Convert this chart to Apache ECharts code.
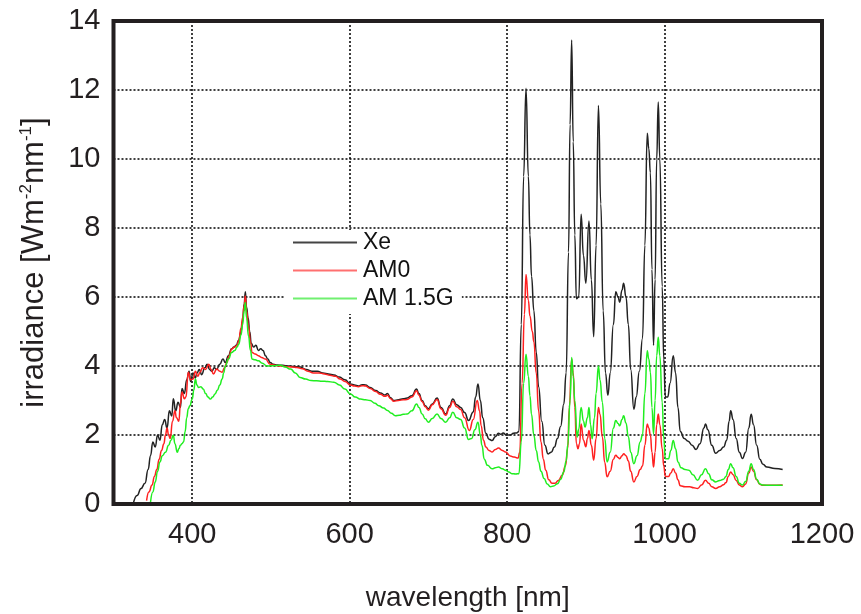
<!DOCTYPE html>
<html>
<head>
<meta charset="utf-8">
<style>html,body{margin:0;padding:0;background:#fff;}#c{width:861px;height:614px;}</style>
<script src="https://cdn.jsdelivr.net/npm/echarts@6/dist/echarts.min.js"></script>
</head>
<body>
<div id="c"></div>
<script>
const seriesNames = ['Xe', 'AM0', 'AM 1.5G'];
const xTicks = [400, 600, 800, 1000, 1200];
const yTicks = [0, 2, 4, 6, 8, 10, 12, 14];

const xe = [[325,0.0],[330,0.25],[335,0.45],[340,0.6],[344,1.0],[347,1.4],[350,1.8],[353,1.65],[356,2.0],[359,1.85],[362,2.3],[365,2.45],[368,2.2],[371,2.7],[374,2.55],[376,3.05],[379,2.7],[382,2.95],[385,2.8],[387,3.35],[390,3.2],[393,3.6],[396,3.85],[398,3.55],[401,3.8],[404,3.65],[406,3.8],[409,3.9],[412,3.75],[416,3.95],[419,4.05],[422,3.9],[425,3.85],[428,3.95],[431,3.9],[435,4.05],[439,4.2],[442,4.1],[446,4.3],[450,4.5],[453,4.55],[456,4.6],[459,4.75],[462,5.0],[464,5.3],[466,5.8],[467.5,6.15],[469,5.7],[471,5.4],[473,5.0],[475,4.65],[478,4.55],[481,4.6],[484,4.45],[487,4.5],[490,4.45],[493,4.3],[496,4.2],[499,4.1],[503,4.05],[508,4.03],[515,4.02],[522,4.0],[530,3.98],[537,3.97],[545,3.9],[552,3.85],[559,3.85],[566,3.8],[573,3.77],[580,3.74],[587,3.68],[594,3.6],[601,3.48],[606,3.45],[611,3.42],[616,3.46],[620,3.45],[626,3.38],[633,3.29],[639,3.22],[645,3.16],[648,3.2],[652,3.08],[656,3.0],[662,3.02],[668,3.05],[673,3.07],[679,3.14],[685,3.33],[688,3.2],[692,3.0],[696,2.85],[700,2.76],[705,2.9],[711,3.07],[716,2.8],[722,2.61],[727,2.85],[731,3.04],[736,2.88],[741,2.8],[746,2.65],[751,2.42],[757,2.67],[760,3.1],[763,3.48],[766,3.0],[769,2.5],[773,2.05],[777,1.88],[781,1.84],[785,1.95],[789,2.05],[792,2.02],[795,2.06],[799,2.0],[804,2.0],[808,2.05],[812,2.06],[815,2.1],[818,5.2],[821,9.5],[824,12.05],[827,9.5],[829,7.8],[831,6.6],[834,5.6],[837,4.4],[840,3.4],[844,2.4],[848,1.7],[852,1.45],[856,1.5],[860,1.65],[864,1.9],[868,2.25],[872,2.9],[875,3.8],[878,7.3],[880,11.0],[882,13.45],[884,10.5],[886,7.8],[888,5.95],[891,6.0],[894,8.4],[897,7.2],[900,6.4],[904,8.2],[907,6.5],[910,4.85],[913,7.5],[916,11.55],[919,8.7],[922,5.6],[925,3.8],[928,3.15],[931,3.8],[935,5.2],[938,6.15],[941,6.0],[943,5.85],[946,6.2],[948,6.4],[951,6.0],[954,5.2],[957,3.9],[961,2.75],[964,3.1],[968,3.85],[972,4.8],[975,7.5],[978,10.75],[980,10.3],[982,9.6],[984,6.8],[986,4.6],[988,6.5],[990,10.0],[992,11.65],[994,10.0],[997,6.3],[999,4.2],[1001,3.1],[1004,3.1],[1007,3.5],[1011,4.3],[1014,3.8],[1017,2.8],[1020,2.1],[1025,1.9],[1030,1.82],[1035,1.7],[1040,1.58],[1045,1.75],[1050,2.2],[1052,2.32],[1055,2.15],[1060,1.7],[1065,1.47],[1070,1.55],[1075,1.65],[1079,1.85],[1082,2.4],[1084,2.7],[1087,2.45],[1091,1.9],[1095,1.5],[1099,1.32],[1103,1.5],[1107,2.2],[1110,2.6],[1113,2.3],[1117,1.7],[1121,1.3],[1125,1.15],[1130,1.07],[1140,1.03],[1150,1.0]];

const am0 = [[342,0.1],[345,0.35],[349,0.55],[352,0.8],[355,1.0],[358,1.3],[361,1.55],[364,1.75],[366,2.0],[368,2.2],[370,2.0],[372,1.9],[375,2.4],[378,2.7],[380,2.5],[383,2.4],[385,2.9],[387,3.25],[390,3.05],[392,3.1],[395,3.82],[398,3.6],[401,3.62],[404,3.85],[407,3.7],[410,3.82],[413,3.95],[417,3.9],[421,4.05],[424,3.9],[427,3.77],[431,3.91],[435,3.85],[438,3.82],[441,3.95],[444,4.1],[447,4.3],[450,4.49],[454,4.55],[457,4.6],[459,4.73],[462,5.1],[464,5.4],[466,5.75],[467.5,6.03],[469,5.6],[471.5,5.16],[474,4.7],[476,4.39],[480,4.35],[484,4.3],[488,4.25],[493,4.2],[499,4.05],[505,4.02],[512,4.0],[520,3.98],[527,3.97],[533,3.96],[540,3.92],[547,3.85],[554,3.8],[561,3.8],[568,3.77],[575,3.73],[582,3.7],[588,3.62],[594,3.55],[601,3.45],[606,3.42],[611,3.4],[616,3.43],[620,3.42],[626,3.35],[633,3.26],[639,3.18],[645,3.12],[648,3.15],[652,3.05],[656,2.98],[662,3.0],[668,3.02],[673,3.03],[679,3.1],[685,3.28],[688,3.15],[692,2.97],[696,2.82],[700,2.72],[705,2.88],[711,3.03],[716,2.76],[722,2.57],[727,2.8],[731,2.98],[736,2.82],[741,2.74],[746,2.5],[752,2.13],[757,2.45],[762,3.0],[765,2.7],[767,2.27],[770,1.85],[773,1.65],[777,1.55],[781,1.51],[785,1.58],[789,1.62],[794,1.55],[798,1.51],[804,1.39],[809,1.36],[814,1.33],[816,1.5],[819,3.5],[822,5.5],[824,6.65],[827,5.9],[829,5.45],[832,5.0],[834,4.7],[837,3.8],[840,2.7],[843,1.8],[846,1.3],[849,0.98],[853,0.7],[857,0.6],[861,0.6],[865,0.68],[870,0.83],[874,1.1],[877,1.6],[879,2.8],[882,4.2],[884,3.8],[886,2.8],[888,1.75],[890,1.6],[892,1.75],[894,2.32],[897,1.85],[900,1.66],[902,1.9],[904,2.13],[907,1.7],[910,1.27],[913,1.9],[916,2.8],[918,2.6],[921,1.94],[924,1.2],[927,0.79],[931,0.95],[935,1.3],[938,1.41],[941,1.35],[943,1.31],[946,1.4],[948,1.46],[951,1.4],[954,1.25],[957,0.95],[961,0.64],[965,0.8],[969,1.0],[972,1.1],[975,1.7],[978,2.32],[980,2.2],[982,2.0],[984,1.5],[986,1.07],[988,1.5],[990,2.3],[992,2.61],[994,2.3],[997,1.6],[999,1.1],[1001,0.8],[1005,0.8],[1008,0.9],[1011,1.02],[1014,0.9],[1017,0.7],[1020,0.53],[1026,0.5],[1032,0.5],[1037,0.47],[1042,0.45],[1047,0.55],[1052,0.69],[1056,0.6],[1060,0.5],[1065,0.45],[1070,0.5],[1075,0.56],[1078,0.62],[1081,0.8],[1084,0.93],[1087,0.85],[1091,0.68],[1095,0.55],[1099,0.5],[1103,0.58],[1107,0.9],[1110,1.07],[1113,0.95],[1117,0.7],[1121,0.57],[1125,0.54],[1135,0.54],[1150,0.55]];

const am15g = [[347,0.05],[350,0.35],[353,0.64],[356,0.95],[359,1.22],[362,1.4],[366,1.5],[370,1.7],[373,1.85],[376,1.99],[378,1.75],[381,1.5],[383,1.6],[385,1.7],[387,1.75],[389,1.8],[391,2.1],[393,2.5],[395,2.76],[397,2.85],[400,3.04],[402,3.3],[404,3.62],[406,3.45],[408,3.38],[411,3.4],[414,3.33],[417,3.2],[420,3.1],[423,3.04],[426,3.1],[429,3.19],[432,3.3],[435,3.45],[438,3.62],[440,3.8],[442,4.0],[446,4.2],[450,4.39],[454,4.45],[457,4.55],[459,4.63],[462,4.9],[464,5.2],[466,5.6],[467.5,5.84],[469,5.4],[471.5,4.87],[474,4.45],[476,4.2],[480,4.18],[484,4.15],[489,4.08],[495,4.0],[503,4.01],[512,4.02],[518,3.97],[525,3.91],[531,3.8],[537,3.67],[544,3.62],[551,3.58],[558,3.57],[565,3.56],[572,3.55],[580,3.53],[587,3.45],[594,3.33],[601,3.19],[607,3.1],[614,3.04],[620,3.02],[626,3.0],[632,2.92],[637,2.85],[643,2.78],[648,2.71],[653,2.63],[658,2.56],[663,2.57],[668,2.6],[673,2.61],[679,2.7],[685,2.9],[688,2.8],[692,2.61],[696,2.47],[700,2.37],[705,2.48],[711,2.61],[716,2.48],[722,2.37],[727,2.5],[731,2.66],[736,2.5],[741,2.45],[746,2.2],[751,1.87],[755,1.9],[759,2.15],[763,2.37],[766,2.0],[768,1.7],[771,1.3],[775,1.12],[781,1.02],[785,1.05],[789,1.07],[794,1.02],[798,0.98],[802,0.93],[806,0.88],[811,0.87],[815,0.88],[818,1.8],[821,3.5],[824,4.34],[827,3.7],[829,3.14],[831,2.6],[834,1.99],[837,1.55],[840,1.22],[843,0.95],[847,0.74],[851,0.58],[855,0.5],[859,0.52],[864,0.59],[868,0.72],[872,0.93],[875,1.25],[877,1.7],[880,3.0],[882,4.25],[884,3.7],[886,3.0],[889,1.94],[891,2.17],[894,2.8],[897,2.4],[899,2.23],[902,2.5],[904,2.8],[906,2.3],[908,1.89],[911,2.5],[913,3.2],[916,4.0],[918,3.6],[921,2.95],[924,1.9],[927,1.22],[931,1.5],[935,2.2],[938,2.42],[941,2.33],[943,2.27],[946,2.45],[948,2.56],[951,2.35],[954,1.95],[957,1.5],[961,1.17],[965,1.4],[969,1.8],[972,2.0],[975,3.2],[978,4.44],[980,4.2],[982,3.82],[984,2.8],[986,2.03],[988,3.0],[990,4.3],[992,4.83],[994,4.3],[997,2.95],[999,1.9],[1001,1.31],[1005,1.31],[1008,1.55],[1011,1.84],[1014,1.6],[1017,1.22],[1021,1.05],[1026,1.0],[1031,0.98],[1036,0.85],[1042,0.69],[1047,0.85],[1052,1.02],[1056,0.88],[1060,0.7],[1065,0.64],[1070,0.68],[1075,0.72],[1078,0.8],[1081,1.0],[1084,1.17],[1087,1.05],[1091,0.8],[1095,0.6],[1099,0.55],[1103,0.65],[1107,0.95],[1110,1.17],[1113,1.0],[1117,0.72],[1121,0.58],[1125,0.55],[1135,0.54],[1150,0.54]];

const seriesData = [xe, am0, am15g];
const seriesColors = ['#222222', '#ff2020', '#20ee20'];
const legendColors = ['#444444', '#ff7070', '#70f070'];

const chart = echarts.init(document.getElementById('c'), null, {renderer: 'canvas'});
const textColor = '#231f20';
const tickFont = 'Liberation Sans, Arial, sans-serif';

const option = {
  animation: false,
  backgroundColor: '#ffffff',
  grid: {
    left: 113.5, right: 39, top: 21, bottom: 110,
    containLabel: false, outerBoundsMode: 'none',
    show: true, borderColor: '#231f20', borderWidth: 4, backgroundColor: 'transparent', z: 10
  },
  legend: {
    data: seriesNames.map(function (n, i) {
      return {name: n, icon: 'rect', itemStyle: {color: legendColors[i]}};
    }),
    orient: 'vertical',
    left: 285, top: 230,
    itemWidth: 64, itemHeight: 2, itemGap: 5,
    backgroundColor: '#ffffff',
    padding: [1, 8, 4, 8],
    textStyle: {fontFamily: 'Liberation Sans, Arial, sans-serif', fontSize: 23, color: '#111', lineHeight: 23, padding: [0, 0, 0, 1]},
    z: 20
  },
  xAxis: {
    type: 'value', min: 300, max: 1200, interval: 100,
    axisLine: {show: false}, axisTick: {show: false},
    axisLabel: {
      show: true, margin: 16, color: textColor, fontFamily: tickFont, fontSize: 29,
      showMinLabel: false,
      formatter: function (v) { return xTicks.indexOf(v) >= 0 ? String(v) : ''; }
    },
    splitLine: {show: true, lineStyle: {color: ['rgba(0,0,0,0)', '#000000'], width: 1.5, type: [2, 2]}},
    name: 'wavelength [nm]', nameLocation: 'middle', nameGap: 80,
    nameTextStyle: {color: textColor, fontFamily: tickFont, fontSize: 28}
  },
  yAxis: {
    type: 'value', min: 0, max: 14, interval: 2,
    axisLine: {show: false}, axisTick: {show: false},
    axisLabel: {
      margin: 13, color: textColor, fontFamily: tickFont, fontSize: 29,
      formatter: function (v) { return yTicks.indexOf(v) >= 0 ? String(v) : ''; }
    },
    splitLine: {show: true, lineStyle: {color: '#000000', width: 1.5, type: [2, 2]}},
    name: 'irradiance [Wm{sup|-2}nm{sup|-1}]', nameLocation: 'middle', nameGap: 62, nameRotate: 90,
    nameTextStyle: {
      color: textColor, fontFamily: tickFont, fontSize: 31, lineHeight: 34,
      rich: {sup: {fontSize: 17, verticalAlign: 'top', color: textColor, fontFamily: tickFont, lineHeight: 34}}
    }
  },
  series: seriesNames.map(function (name, i) {
    return {
      name: name, type: 'line', data: seriesData[i],
      symbol: 'none', showSymbol: false,
      smooth: 0.5, smoothMonotone: 'x',
      lineStyle: {color: seriesColors[i], width: 1.5},
      itemStyle: {color: seriesColors[i]},
      z: 3 + i
    };
  })
};
chart.setOption(option);
</script>
</body>
</html>
